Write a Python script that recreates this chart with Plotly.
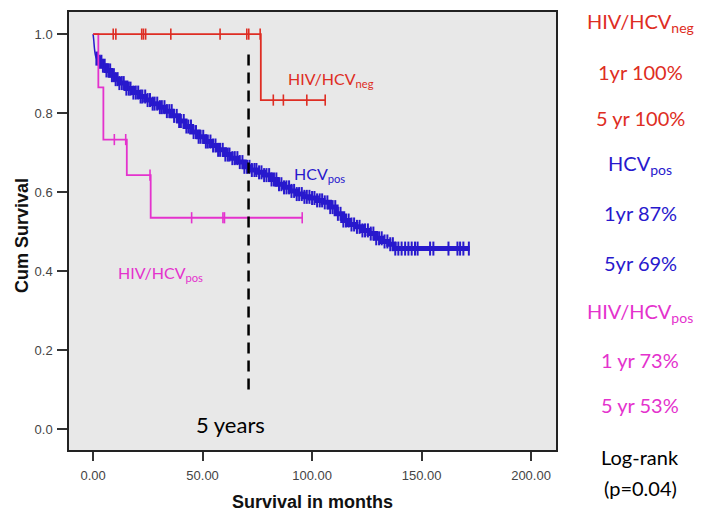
import plotly.graph_objects as go

# ---- data ----
# HCV_pos (blue) Kaplan-Meier steps
blue_t = [0, 0.3, 0.6, 1.0, 1.5, 2.5, 4, 6, 8, 10, 12, 15, 18, 21, 24, 27, 30, 33, 36, 39, 42, 45,
          48, 51, 54, 57, 60, 63, 66, 69, 72, 75, 78, 81, 84, 87, 90, 93, 96, 99, 102, 105, 108,
          111, 114, 117, 120, 123, 126, 129, 132, 135, 137.5]
blue_s = [1.0, 0.985, 0.965, 0.948, 0.938, 0.930, 0.920, 0.908, 0.896, 0.886, 0.876, 0.862, 0.852,
          0.842, 0.833, 0.824, 0.815, 0.805, 0.793, 0.780, 0.766, 0.752, 0.740, 0.728, 0.718, 0.707,
          0.695, 0.686, 0.676, 0.664, 0.656, 0.650, 0.643, 0.632, 0.620, 0.612, 0.603, 0.595, 0.588,
          0.585, 0.579, 0.574, 0.562, 0.545, 0.528, 0.518, 0.512, 0.503, 0.495, 0.483, 0.475, 0.468,
          0.457]
blue_end = 172.0
blue_cens = [1.5, 2.2, 3.0, 3.8, 4.5, 5.3, 6.1, 7.0, 7.8, 8.6, 9.5, 10.3, 11.2, 12.0, 13.1, 14.0,
             15.2, 16.3, 17.1, 18.4, 19.5, 20.6, 21.7, 22.5, 23.8, 24.9, 26.0, 27.2, 28.1, 29.3,
             30.5, 31.4, 32.6, 33.7, 34.8, 35.9, 37.0, 38.2, 39.3, 40.1, 41.4, 42.6, 43.5, 44.7,
             45.9, 47.0, 48.2, 49.1, 50.3, 51.5, 52.4, 53.6, 54.8, 55.9, 57.1, 58.0, 59.2, 60.4,
             61.5, 62.3, 63.6, 64.7, 65.9, 67.0, 68.2, 69.1, 70.3, 71.4, 72.5, 73.7, 74.6, 75.8,
             76.9, 78.1, 79.2, 80.4, 81.5, 82.6, 83.7, 84.9, 86.0, 87.2, 88.3, 89.5, 90.6, 91.8,
             93.0, 94.1, 95.3, 96.5, 97.6, 98.8, 100.0, 101.1, 102.3, 103.5, 104.6, 105.8, 107.0,
             108.3, 109.4, 110.6, 111.8, 113.0, 114.3, 115.5, 116.7, 118.0, 119.2, 120.5, 121.7,
             123.0, 124.2, 125.5, 126.8, 128.0, 129.3, 130.6, 131.8, 133.1, 134.4, 135.7, 136.9,
             138.0, 139.4, 140.9, 142.5, 144.0, 145.5, 147.0, 148.2, 153.9, 155.4, 162.3, 166.4,
             167.6, 169.1, 171.6]

# HIV/HCV_neg (red)
red_t = [0, 76.6]
red_s = [1.0, 0.833]
red_end = 106.0
red_cens = [9.2, 10.4, 22.2, 23.0, 24.0, 35.5, 58.0, 70.2, 71.1, 76.3, 82.3, 86.9, 97.6, 106.0]

# HIV/HCV_pos (magenta)
mag_t = [0, 2.4, 4.7, 15.4, 26.3]
mag_s = [1.0, 0.865, 0.733, 0.643, 0.535]
mag_end = 95.5
mag_cens = [9.7, 14.9, 26.0, 45.0, 59.3, 60.0, 95.5]

five_year_x = 71.0
x_ticks = [0, 50, 100, 150, 200]
x_tick_labels = ["0.00", "50.00", "100.00", "150.00", "200.00"]
y_ticks = [0.0, 0.2, 0.4, 0.6, 0.8, 1.0]
y_tick_labels = ["0.0", "0.2", "0.4", "0.6", "0.8", "1.0"]

side_texts = [
    ("HIV/HCV<sub>neg</sub>", "red"),
    ("1yr 100%", "red"),
    ("5 yr 100%", "red"),
    ("HCV<sub>pos</sub>", "blue"),
    ("1yr 87%", "blue"),
    ("5yr 69%", "blue"),
    ("HIV/HCV<sub>pos</sub>", "mag"),
    ("1 yr 73%", "mag"),
    ("5 yr 53%", "mag"),
    ("Log-rank", "black"),
    ("(p=0.04)", "black"),
]

RED = "rgb(222,45,35)"
BLUE = "rgb(40,25,205)"
MAG = "rgb(228,50,205)"
colors = {"red": RED, "blue": BLUE, "mag": MAG, "black": "black"}


def surv_at(ts, ss, t):
    v = ss[0]
    for ti, si in zip(ts, ss):
        if ti <= t:
            v = si
    return v


fig = go.Figure()


def add_curve(ts, ss, end, cens, color, width, msize, mwidth):
    xs = list(ts) + [end]
    ys = list(ss) + [ss[-1]]
    fig.add_trace(go.Scatter(x=xs, y=ys, mode="lines", line=dict(color=color, width=width, shape="hv"),
                             showlegend=False, hoverinfo="skip"))
    fig.add_trace(go.Scatter(x=cens, y=[surv_at(ts, ss, c) for c in cens], mode="markers",
                             marker=dict(symbol="line-ns", size=msize, color=color,
                                         line=dict(color=color, width=mwidth)),
                             showlegend=False, hoverinfo="skip"))


# thin initial drop of blue
fig.add_trace(go.Scatter(x=blue_t[:5], y=blue_s[:5], mode="lines", line=dict(color=BLUE, width=1.5, shape="spline"),
                         showlegend=False, hoverinfo="skip"))
add_curve(blue_t[4:], blue_s[4:], blue_end, blue_cens, BLUE, 5, 10, 2)
add_curve(mag_t, mag_s, mag_end, mag_cens, MAG, 1.8, 8, 1.6)
add_curve(red_t, red_s, red_end, red_cens, RED, 1.8, 8, 1.6)

# 5-year reference line
fig.add_trace(go.Scatter(x=[five_year_x, five_year_x], y=[0.1, 0.955], mode="lines",
                         line=dict(color="black", width=2.5, dash="11px,7px"),
                         showlegend=False, hoverinfo="skip"))

W, H = 705, 511
ml, mr, mt, mb = 69, 149, 12, 61
pw, ph = W - ml - mr, H - mt - mb

ann = []
font_txt = "Lato, 'Open Sans', sans-serif"
ann.append(dict(x=62.6, y=0.012, xref="x", yref="y", text="5 years", showarrow=False,
                font=dict(family=font_txt, size=22, color="black")))
ann.append(dict(x=108.5, y=0.885, xref="x", yref="y", text="HIV/HCV<sub>neg</sub>", showarrow=False,
                font=dict(family=font_txt, size=16, color=RED)))
ann.append(dict(x=103.5, y=0.645, xref="x", yref="y", text="HCV<sub>pos</sub>", showarrow=False,
                font=dict(family=font_txt, size=16, color=BLUE)))
ann.append(dict(x=30.8, y=0.395, xref="x", yref="y", text="HIV/HCV<sub>pos</sub>", showarrow=False,
                font=dict(family=font_txt, size=16, color=MAG)))

side_y = [22, 72, 118, 165, 213, 263, 312, 360, 405, 457, 488]
cx = 640
for (txt, c), py in zip(side_texts, side_y):
    ann.append(dict(x=(cx - ml) / pw, y=(H - mb - py) / ph, xref="paper", yref="paper", text=txt,
                    showarrow=False, xanchor="center", yanchor="middle",
                    font=dict(family=font_txt, size=20, color=colors[c])))

# axis titles as annotations at the reference positions
title_font = "Liberation Sans, Arial, sans-serif"
ann.append(dict(x=(312 - ml) / pw, y=(H - mb - 502) / ph, xref="paper", yref="paper",
                text="<b>Survival in months</b>", showarrow=False, xanchor="center", yanchor="middle",
                font=dict(family=title_font, size=18, color="#111")))
ann.append(dict(x=(22 - ml) / pw, y=(H - mb - 236) / ph, xref="paper", yref="paper",
                text="<b>Cum Survival</b>", showarrow=False, xanchor="center", yanchor="middle",
                textangle=-90, font=dict(family=title_font, size=18, color="#111")))

fig.update_layout(
    width=W, height=H,
    margin=dict(l=ml, r=mr, t=mt, b=mb, autoexpand=False),
    paper_bgcolor="white",
    plot_bgcolor="rgb(232,232,232)",
    annotations=ann,
    font=dict(family="Liberation Sans, Arial, sans-serif", color="#333"),
)
fig.update_xaxes(range=[-11, 211.4], tickvals=x_ticks, ticktext=x_tick_labels, ticks="outside",
                 ticklen=9, tickwidth=1.5, tickcolor="#333", showgrid=False, zeroline=False,
                 showline=True, linecolor="#222", linewidth=1.5, mirror=True, automargin=False,
                 ticklabelstandoff=4, tickfont=dict(size=13, color="#444"))
fig.update_yaxes(range=[-0.053, 1.056], tickvals=y_ticks, ticktext=y_tick_labels, ticks="outside",
                 ticklen=10, tickwidth=1.5, tickcolor="#333", showgrid=False, zeroline=False,
                 showline=True, linecolor="#222", linewidth=1.5, mirror=True, automargin=False,
                 ticklabelstandoff=2, tickfont=dict(size=13, color="#444"))

fig.write_html("out.html")
